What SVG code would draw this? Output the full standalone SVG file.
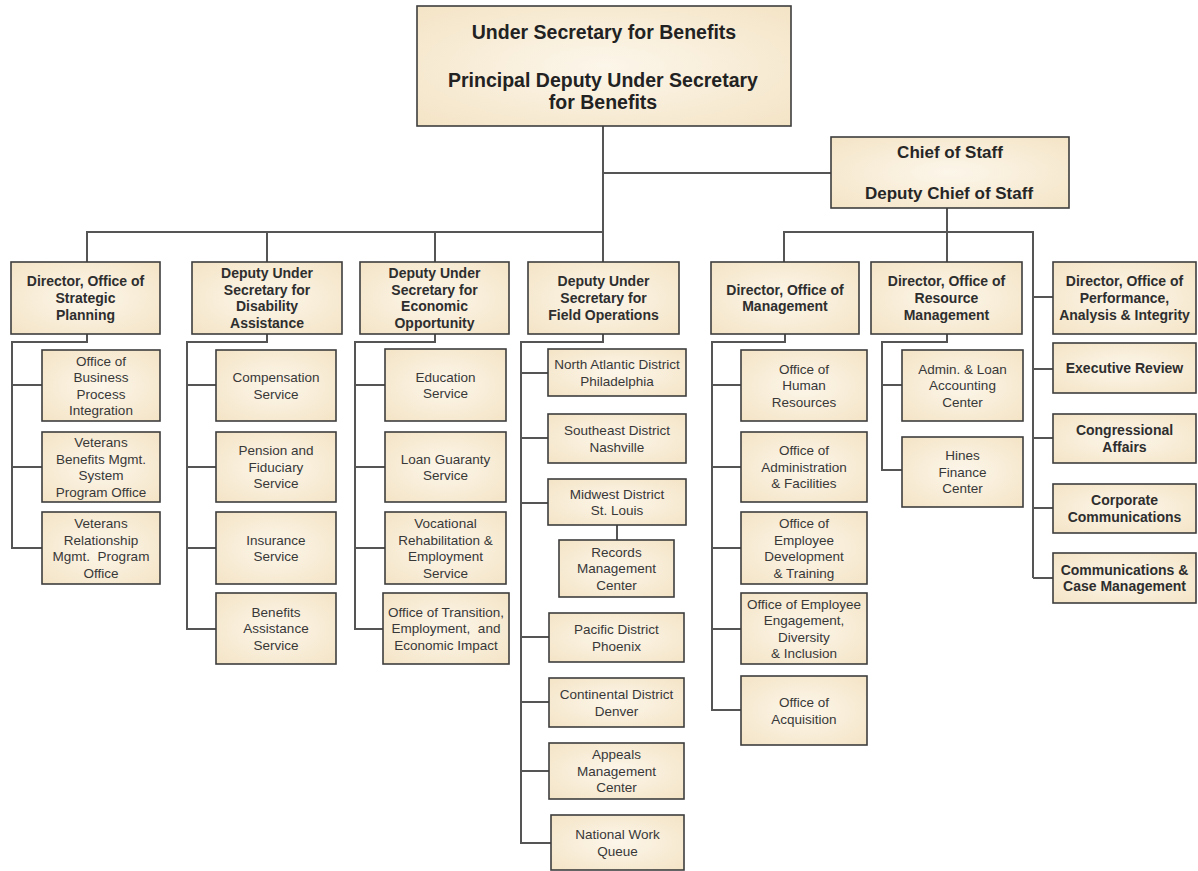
<svg xmlns="http://www.w3.org/2000/svg" width="1198" height="871" viewBox="0 0 1198 871">
<defs>
<radialGradient id="bg" cx="50%" cy="50%" r="70%">
<stop offset="0" stop-color="#fcf6ea"/>
<stop offset="1" stop-color="#f4e4c6"/>
</radialGradient>
<style>
.box{fill:url(#bg);stroke:#3e3e3e;stroke-width:1.6}
.conn line,.conn polyline{stroke:#555;stroke-width:2;fill:none}
text{font-family:"Liberation Sans",Arial,sans-serif;text-anchor:middle}
.h{font-weight:bold;font-size:14px;fill:#2e2e2e}
.r{font-size:13.5px;fill:#383838}
.top{font-weight:bold;font-size:19.5px;fill:#222}
.cos{font-weight:bold;font-size:17px;fill:#262626}
</style>
</defs>
<rect width="1198" height="871" fill="#fff"/>

<g class="conn">
<line x1="603" y1="126" x2="603" y2="232"/>
<line x1="603" y1="173" x2="831" y2="173"/>
<line x1="86" y1="232" x2="604" y2="232"/>
<line x1="87" y1="232" x2="87" y2="262"/>
<line x1="267" y1="232" x2="267" y2="262"/>
<line x1="435" y1="232" x2="435" y2="262"/>
<line x1="603" y1="232" x2="603" y2="262"/>
<line x1="947" y1="208" x2="947" y2="262"/>
<line x1="783" y1="232" x2="1034" y2="232"/>
<line x1="784" y1="232" x2="784" y2="262"/>
<line x1="1033" y1="232" x2="1033" y2="578"/>
<line x1="1033" y1="297" x2="1053" y2="297"/>
<polyline points="87,334 87,342 12,342 12,548 42,548"/>
<line x1="12" y1="385" x2="42" y2="385"/>
<line x1="12" y1="467" x2="42" y2="467"/>
<polyline points="267,334 267,342 187,342 187,629 216,629"/>
<line x1="187" y1="385" x2="216" y2="385"/>
<line x1="187" y1="467" x2="216" y2="467"/>
<line x1="187" y1="548" x2="216" y2="548"/>
<polyline points="435,334 435,342 355,342 355,629 383,629"/>
<line x1="355" y1="385" x2="385" y2="385"/>
<line x1="355" y1="467" x2="385" y2="467"/>
<line x1="355" y1="548" x2="385" y2="548"/>
<polyline points="603,334 603,342 521,342 521,843 551,843"/>
<line x1="521" y1="373" x2="548" y2="373"/>
<line x1="521" y1="438" x2="548" y2="438"/>
<line x1="521" y1="503" x2="548" y2="503"/>
<line x1="617" y1="525" x2="617" y2="540"/>
<line x1="521" y1="637" x2="549" y2="637"/>
<line x1="521" y1="702" x2="549" y2="702"/>
<line x1="521" y1="771" x2="549" y2="771"/>
<polyline points="785,334 785,342 712,342 712,710 741,710"/>
<line x1="712" y1="385" x2="741" y2="385"/>
<line x1="712" y1="467" x2="741" y2="467"/>
<line x1="712" y1="548" x2="741" y2="548"/>
<line x1="712" y1="629" x2="741" y2="629"/>
<polyline points="947,334 947,342 882,342 882,470 902,470"/>
<line x1="882" y1="385" x2="902" y2="385"/>
<line x1="1033" y1="369" x2="1053" y2="369"/>
<line x1="1033" y1="438" x2="1053" y2="438"/>
<line x1="1033" y1="508" x2="1053" y2="508"/>
<line x1="1033" y1="578" x2="1053" y2="578"/>
</g>

<g id="usb">
<rect class="box" x="417" y="6" width="374" height="120"/>
<text class="top" x="604" y="38.5">Under Secretary for Benefits</text>
<text class="top" x="603" y="87">Principal Deputy Under Secretary</text>
<text class="top" x="603" y="108.5">for Benefits</text>
</g>
<g id="cos">
<rect class="box" x="831" y="137" width="238" height="71"/>
<text class="cos" x="950" y="158">Chief of Staff</text>
<text class="cos" x="949" y="199">Deputy Chief of Staff</text>
</g>

<g id="sp">
<rect class="box" x="11" y="262" width="149" height="72"/>
<text class="h" x="85.5" y="286.3">Director, Office of</text>
<text class="h" x="85.5" y="303">Strategic</text>
<text class="h" x="85.5" y="319.7">Planning</text>
</g>
<g id="da">
<rect class="box" x="192" y="262" width="150" height="72"/>
<text class="h" x="267" y="278">Deputy Under</text>
<text class="h" x="267" y="294.7">Secretary for</text>
<text class="h" x="267" y="311.3">Disability</text>
<text class="h" x="267" y="328">Assistance</text>
</g>
<g id="eo">
<rect class="box" x="360" y="262" width="149" height="72"/>
<text class="h" x="434.5" y="278">Deputy Under</text>
<text class="h" x="434.5" y="294.7">Secretary for</text>
<text class="h" x="434.5" y="311.3">Economic</text>
<text class="h" x="434.5" y="328">Opportunity</text>
</g>
<g id="fo">
<rect class="box" x="528" y="262" width="151" height="72"/>
<text class="h" x="603.5" y="286.3">Deputy Under</text>
<text class="h" x="603.5" y="303">Secretary for</text>
<text class="h" x="603.5" y="319.7">Field Operations</text>
</g>
<g id="om">
<rect class="box" x="711" y="262" width="148" height="72"/>
<text class="h" x="785" y="294.7">Director, Office of</text>
<text class="h" x="785" y="311.4">Management</text>
</g>
<g id="rm">
<rect class="box" x="871" y="262" width="151" height="72"/>
<text class="h" x="946.5" y="286.3">Director, Office of</text>
<text class="h" x="946.5" y="303">Resource</text>
<text class="h" x="946.5" y="319.7">Management</text>
</g>
<g id="pai">
<rect class="box" x="1053" y="262" width="143" height="72"/>
<text class="h" x="1124.5" y="286.3">Director, Office of</text>
<text class="h" x="1124.5" y="303">Performance,</text>
<text class="h" x="1124.5" y="319.7">Analysis &amp; Integrity</text>
</g>

<g id="sp1">
<rect class="box" x="42" y="350" width="118" height="71"/>
<text class="r" x="101" y="365.5">Office of</text>
<text class="r" x="101" y="382">Business</text>
<text class="r" x="101" y="398.5">Process</text>
<text class="r" x="101" y="415">Integration</text>
</g>
<g id="sp2">
<rect class="box" x="42" y="432" width="118" height="70"/>
<text class="r" x="101" y="447">Veterans</text>
<text class="r" x="101" y="463.5">Benefits Mgmt.</text>
<text class="r" x="101" y="480">System</text>
<text class="r" x="101" y="496.5">Program Office</text>
</g>
<g id="sp3">
<rect class="box" x="42" y="512" width="118" height="72"/>
<text class="r" x="101" y="528">Veterans</text>
<text class="r" x="101" y="544.5">Relationship</text>
<text class="r" x="101" y="561" xml:space="preserve">Mgmt.  Program</text>
<text class="r" x="101" y="577.5">Office</text>
</g>

<g id="da1">
<rect class="box" x="216" y="350" width="120" height="71"/>
<text class="r" x="276" y="382">Compensation</text>
<text class="r" x="276" y="398.5">Service</text>
</g>
<g id="da2">
<rect class="box" x="216" y="432" width="120" height="70"/>
<text class="r" x="276" y="455.3">Pension and</text>
<text class="r" x="276" y="471.8">Fiduciary</text>
<text class="r" x="276" y="488.3">Service</text>
</g>
<g id="da3">
<rect class="box" x="216" y="512" width="120" height="72"/>
<text class="r" x="276" y="544.5">Insurance</text>
<text class="r" x="276" y="561">Service</text>
</g>
<g id="da4">
<rect class="box" x="216" y="593" width="120" height="71"/>
<text class="r" x="276" y="616.8">Benefits</text>
<text class="r" x="276" y="633.3">Assistance</text>
<text class="r" x="276" y="649.8">Service</text>
</g>

<g id="eo1">
<rect class="box" x="385" y="349" width="121" height="72"/>
<text class="r" x="445.5" y="381.5">Education</text>
<text class="r" x="445.5" y="398">Service</text>
</g>
<g id="eo2">
<rect class="box" x="385" y="432" width="121" height="70"/>
<text class="r" x="445.5" y="463.5">Loan Guaranty</text>
<text class="r" x="445.5" y="480">Service</text>
</g>
<g id="eo3">
<rect class="box" x="385" y="512" width="121" height="72"/>
<text class="r" x="445.5" y="528">Vocational</text>
<text class="r" x="445.5" y="544.5">Rehabilitation &amp;</text>
<text class="r" x="445.5" y="561">Employment</text>
<text class="r" x="445.5" y="577.5">Service</text>
</g>
<g id="eo4">
<rect class="box" x="383" y="593" width="126" height="71"/>
<text class="r" x="446" y="616.8">Office of Transition,</text>
<text class="r" x="446" y="633.3" xml:space="preserve">Employment,  and</text>
<text class="r" x="446" y="649.8">Economic Impact</text>
</g>

<g id="fo1">
<rect class="box" x="548" y="349" width="138" height="47"/>
<text class="r" x="617" y="369">North Atlantic District</text>
<text class="r" x="617" y="385.5">Philadelphia</text>
</g>
<g id="fo2">
<rect class="box" x="548" y="414" width="138" height="49"/>
<text class="r" x="617" y="435">Southeast District</text>
<text class="r" x="617" y="451.5">Nashville</text>
</g>
<g id="fo3">
<rect class="box" x="548" y="479" width="138" height="46"/>
<text class="r" x="617" y="498.5">Midwest District</text>
<text class="r" x="617" y="515">St. Louis</text>
</g>
<g id="rmc">
<rect class="box" x="559" y="540" width="115" height="57"/>
<text class="r" x="616.5" y="556.8">Records</text>
<text class="r" x="616.5" y="573.3">Management</text>
<text class="r" x="616.5" y="589.8">Center</text>
</g>
<g id="fo4">
<rect class="box" x="549" y="613" width="135" height="49"/>
<text class="r" x="616.5" y="634">Pacific District</text>
<text class="r" x="616.5" y="650.5">Phoenix</text>
</g>
<g id="fo5">
<rect class="box" x="549" y="678" width="135" height="49"/>
<text class="r" x="616.5" y="699">Continental District</text>
<text class="r" x="616.5" y="715.5">Denver</text>
</g>
<g id="fo6">
<rect class="box" x="549" y="743" width="135" height="56"/>
<text class="r" x="616.5" y="759.3">Appeals</text>
<text class="r" x="616.5" y="775.8">Management</text>
<text class="r" x="616.5" y="792.3">Center</text>
</g>
<g id="fo7">
<rect class="box" x="551" y="815" width="133" height="55"/>
<text class="r" x="617.5" y="839">National Work</text>
<text class="r" x="617.5" y="855.5">Queue</text>
</g>

<g id="om1">
<rect class="box" x="741" y="350" width="126" height="71"/>
<text class="r" x="804" y="373.8">Office of</text>
<text class="r" x="804" y="390.3">Human</text>
<text class="r" x="804" y="406.8">Resources</text>
</g>
<g id="om2">
<rect class="box" x="741" y="432" width="126" height="70"/>
<text class="r" x="804" y="455.3">Office of</text>
<text class="r" x="804" y="471.8">Administration</text>
<text class="r" x="804" y="488.3">&amp; Facilities</text>
</g>
<g id="om3">
<rect class="box" x="741" y="512" width="126" height="72"/>
<text class="r" x="804" y="528">Office of</text>
<text class="r" x="804" y="544.5">Employee</text>
<text class="r" x="804" y="561">Development</text>
<text class="r" x="804" y="577.5">&amp; Training</text>
</g>
<g id="om4">
<rect class="box" x="741" y="593" width="126" height="71"/>
<text class="r" x="804" y="608.5">Office of Employee</text>
<text class="r" x="804" y="625">Engagement,</text>
<text class="r" x="804" y="641.5">Diversity</text>
<text class="r" x="804" y="658">&amp; Inclusion</text>
</g>
<g id="om5">
<rect class="box" x="741" y="676" width="126" height="69"/>
<text class="r" x="804" y="707">Office of</text>
<text class="r" x="804" y="723.5">Acquisition</text>
</g>

<g id="rm1">
<rect class="box" x="902" y="350" width="121" height="71"/>
<text class="r" x="962.5" y="373.8">Admin. &amp; Loan</text>
<text class="r" x="962.5" y="390.3">Accounting</text>
<text class="r" x="962.5" y="406.8">Center</text>
</g>
<g id="rm2">
<rect class="box" x="902" y="437" width="121" height="70"/>
<text class="r" x="962.5" y="460.3">Hines</text>
<text class="r" x="962.5" y="476.8">Finance</text>
<text class="r" x="962.5" y="493.3">Center</text>
</g>

<g id="pa1">
<rect class="box" x="1053" y="343" width="143" height="50"/>
<text class="h" x="1124.5" y="373">Executive Review</text>
</g>
<g id="pa2">
<rect class="box" x="1053" y="414" width="143" height="49"/>
<text class="h" x="1124.5" y="435.2">Congressional</text>
<text class="h" x="1124.5" y="451.9">Affairs</text>
</g>
<g id="pa3">
<rect class="box" x="1053" y="484" width="143" height="49"/>
<text class="h" x="1124.5" y="505.2">Corporate</text>
<text class="h" x="1124.5" y="521.9">Communications</text>
</g>
<g id="pa4">
<rect class="box" x="1053" y="553" width="143" height="50"/>
<text class="h" x="1124.5" y="574.7">Communications &amp;</text>
<text class="h" x="1124.5" y="591.4">Case Management</text>
</g>
</svg>
